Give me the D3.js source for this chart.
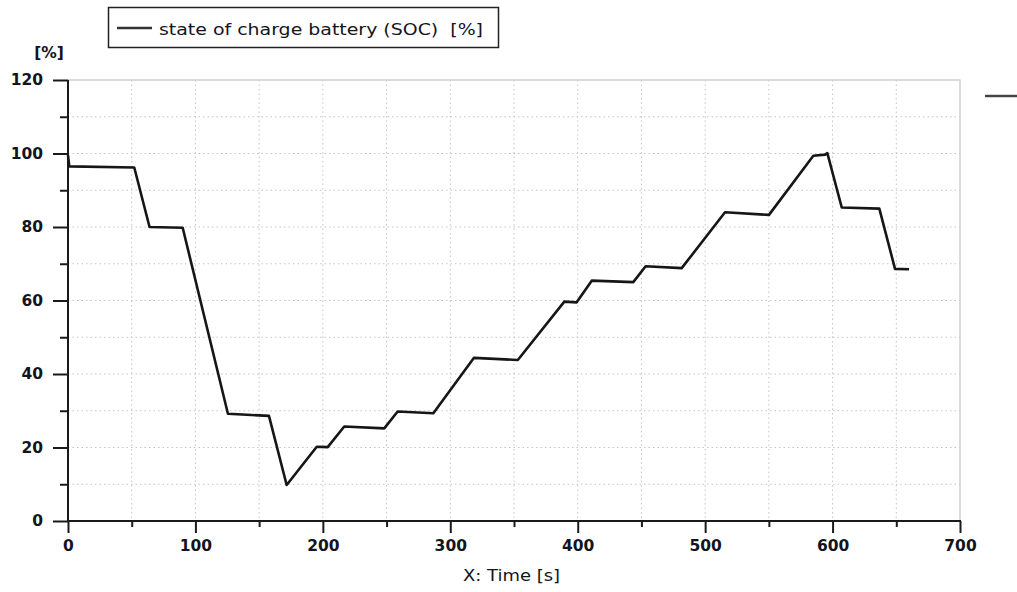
<!DOCTYPE html>
<html>
<head>
<meta charset="utf-8">
<script src="https://cdn.jsdelivr.net/npm/d3@7"></script>
<style>
  html, body { margin: 0; padding: 0; background: #fff; }
  svg { display: block; }
  .tick-label { font-family: "DejaVu Sans", Verdana, sans-serif; font-weight: bold; font-size: 15.5px; fill: #141420; }
  .plain { font-family: "DejaVu Sans", Verdana, sans-serif; font-size: 16px; fill: #141420; white-space: pre; }
</style>
</head>
<body>
<svg id="chart" width="1017" height="592"></svg>
<script>
// Battery state of charge over time
const timeSec = [0, 1, 52, 64, 90, 125.5, 157.7, 171.6, 195.2, 203.8, 216.8, 248.2, 258.7, 286.7,
  318.6, 353, 389.5, 399.2, 411, 443.6, 453.3, 481.6, 515.6, 550.1, 584.9, 594.1, 595.9,
  607.2, 636.7, 649, 660];
const socPct = [99.5, 96.5, 96.2, 80.0, 79.8, 29.2, 28.6, 9.8, 20.2, 20.1, 25.7, 25.2, 29.8, 29.3,
  44.4, 43.8, 59.7, 59.5, 65.4, 65.0, 69.3, 68.8, 84.0, 83.3, 99.4, 99.7, 100.1,
  85.3, 85.0, 68.6, 68.5];

const xMajorTicks = [0, 100, 200, 300, 400, 500, 600, 700];
const xMinorTicks = [50, 150, 250, 350, 450, 550, 650];
const yMajorTicks = [0, 20, 40, 60, 80, 100, 120];
const yMinorTicks = [10, 30, 50, 70, 90, 110];

const seriesName = "state of charge battery (SOC)  [%]";
const yUnit = "[%]";
const xTitle = "X: Time [s]";

const svg = d3.select("#chart");
const plotL = 68, plotR = 960, plotT = 80, plotB = 521;

const x = d3.scaleLinear().domain([0, 700]).range([plotL, plotR]);
const y = d3.scaleLinear().domain([0, 120]).range([plotB, plotT]);

// dotted grid
const grid = svg.append("g");
grid.selectAll("line.gx").data(xMajorTicks.concat(xMinorTicks).filter(d => d > 0 && d < 700))
  .enter().append("line")
  .attr("x1", d => x(d)).attr("x2", d => x(d)).attr("y1", plotT).attr("y2", plotB)
  .attr("stroke", "#c4c4c4").attr("stroke-width", 1).attr("stroke-dasharray", "1.5,3");
grid.selectAll("line.gy").data(yMajorTicks.concat(yMinorTicks).filter(d => d > 0 && d < 120))
  .enter().append("line")
  .attr("x1", plotL).attr("x2", plotR).attr("y1", d => y(d)).attr("y2", d => y(d))
  .attr("stroke", "#c4c4c4").attr("stroke-width", 1).attr("stroke-dasharray", "1.5,3");

// light frame on top and right
svg.append("line").attr("x1", plotL).attr("x2", plotR + 0.5).attr("y1", plotT).attr("y2", plotT)
  .attr("stroke", "#cfcfcf").attr("stroke-width", 1.5);
svg.append("line").attr("x1", plotR).attr("x2", plotR).attr("y1", plotT).attr("y2", plotB)
  .attr("stroke", "#cfcfcf").attr("stroke-width", 1.5);

// axes
const xAxis = svg.append("g").attr("transform", `translate(0,${plotB})`)
  .call(d3.axisBottom(x).tickValues(xMajorTicks).tickSize(12).tickPadding(6).tickFormat(d3.format("d")));
const xMinor = svg.append("g").attr("transform", `translate(0,${plotB})`)
  .call(d3.axisBottom(x).tickValues(xMinorTicks).tickSize(6).tickFormat(""));
const yAxis = svg.append("g").attr("transform", `translate(${plotL},0)`)
  .call(d3.axisLeft(y).tickValues(yMajorTicks).tickSize(15).tickPadding(10).tickFormat(d3.format("d")));
const yMinor = svg.append("g").attr("transform", `translate(${plotL},0)`)
  .call(d3.axisLeft(y).tickValues(yMinorTicks).tickSize(8).tickFormat(""));

[xAxis, xMinor, yAxis, yMinor].forEach(g => {
  g.select(".domain").remove();
  g.selectAll(".tick line").attr("stroke", "#1a1a1a").attr("stroke-width", 2);
  g.selectAll(".tick text").attr("class", "tick-label").attr("fill", null);
});
xAxis.selectAll(".tick text").attr("dy", "0.8em");
svg.append("line").attr("x1", plotL).attr("x2", plotL).attr("y1", plotT).attr("y2", plotB + 1)
  .attr("stroke", "#1a1a1a").attr("stroke-width", 2);
svg.append("line").attr("x1", plotL - 1).attr("x2", plotR + 1).attr("y1", plotB).attr("y2", plotB)
  .attr("stroke", "#1a1a1a").attr("stroke-width", 2);

// series line
const line = d3.line().x((d, i) => x(timeSec[i])).y(d => y(d));
svg.append("path").datum(socPct)
  .attr("d", line).attr("fill", "none")
  .attr("stroke", "#161616").attr("stroke-width", 2.6).attr("stroke-linejoin", "round");

// unit label
svg.append("text").attr("class", "tick-label").attr("x", 49).attr("y", 58)
  .attr("text-anchor", "middle").text(yUnit);

// legend
svg.append("rect").attr("x", 108.5).attr("y", 7.5).attr("width", 390).attr("height", 40)
  .attr("fill", "#fff").attr("stroke", "#222").attr("stroke-width", 1.5);
svg.append("line").attr("x1", 117).attr("x2", 152).attr("y1", 28).attr("y2", 28)
  .attr("stroke", "#333").attr("stroke-width", 2.5);
svg.append("text").attr("class", "plain").attr("x", 159).attr("y", 35)
  .attr("textLength", 324).attr("lengthAdjust", "spacingAndGlyphs").text(seriesName);

// short marker at right edge
svg.append("line").attr("x1", 985).attr("x2", 1017).attr("y1", 96).attr("y2", 96)
  .attr("stroke", "#444").attr("stroke-width", 2.5);

// x title
svg.append("text").attr("class", "plain").attr("x", 463).attr("y", 581)
  .attr("textLength", 97).attr("lengthAdjust", "spacingAndGlyphs").text(xTitle);
</script>
</body>
</html>
